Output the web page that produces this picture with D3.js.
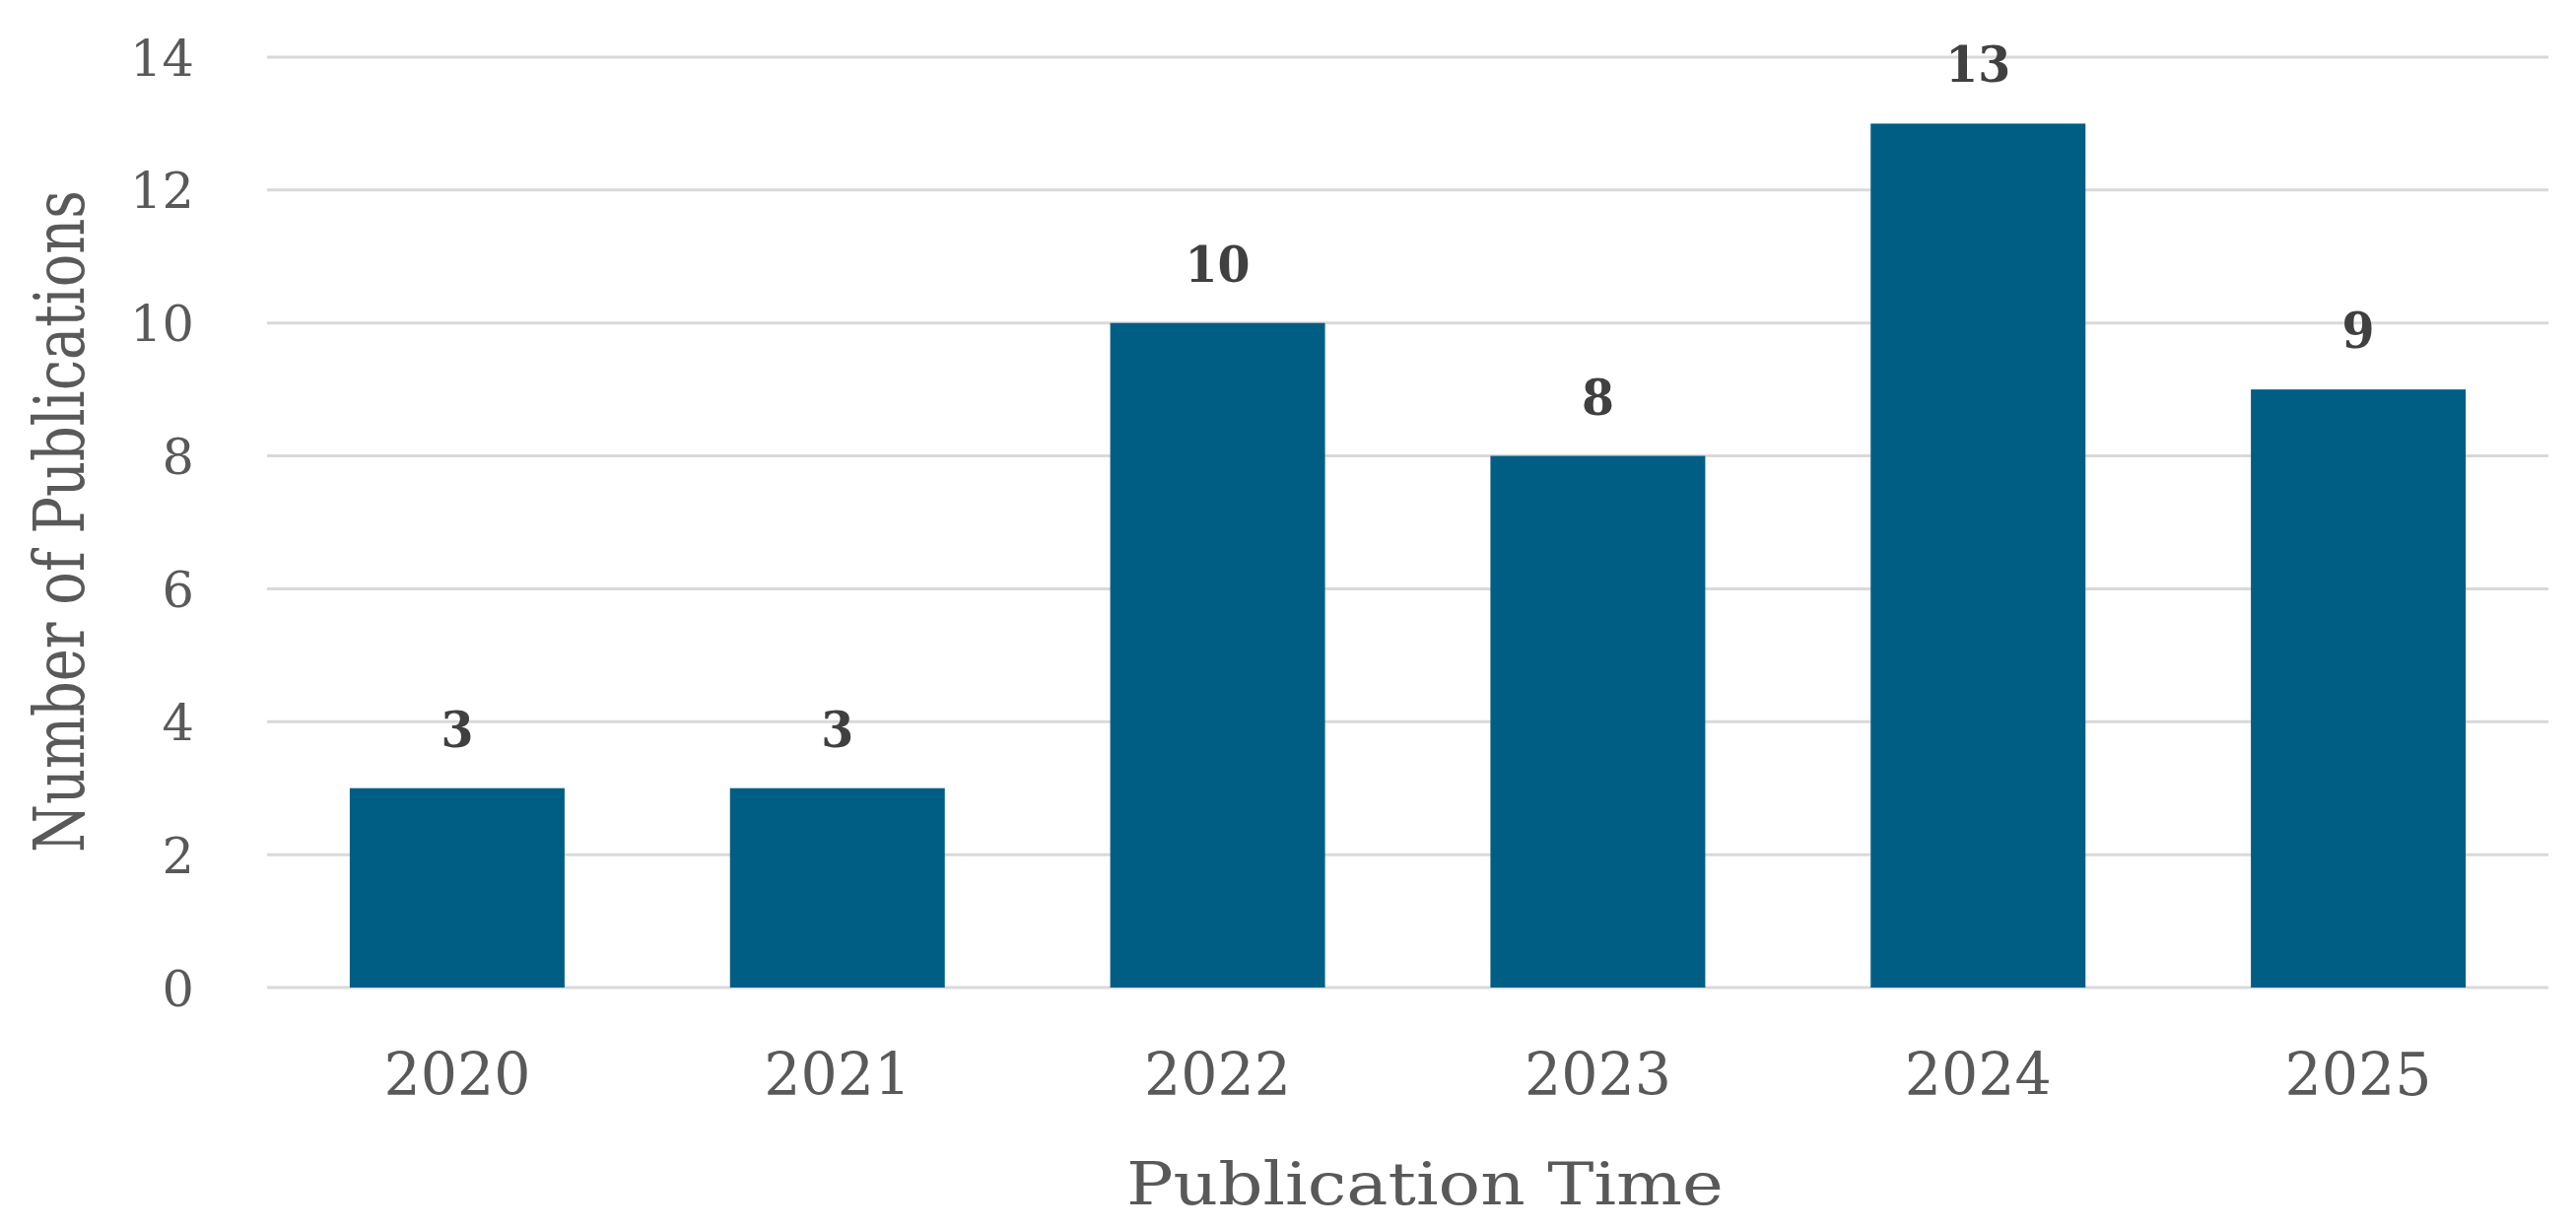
<!DOCTYPE html>
<html>
<head>
<meta charset="utf-8">
<script src="https://cdn.jsdelivr.net/npm/d3@7"></script>
<style>
  html, body { margin: 0; padding: 0; background: #ffffff; }
  svg { display: block; }
</style>
</head>
<body>
<svg id="chart" width="2614" height="1247"></svg>
<script>
const years = ["2020", "2021", "2022", "2023", "2024", "2025"];
const publications = [3, 3, 10, 8, 13, 9];
const yTicks = [0, 2, 4, 6, 8, 10, 12, 14];
const xTitle = "Publication Time";
const yTitle = "Number of Publications";

(function () {
const svg = d3.select("#chart");
const W = 2614, H = 1247;
svg.append("rect").attr("width", W).attr("height", H).attr("fill", "#ffffff");

const plotLeft = 271, plotRight = 2586, plotTop = 58, plotBottom = 1002;
const x = d3.scaleBand().domain(years).range([plotLeft, plotRight]).paddingInner(0.435).paddingOuter(0.2175);
const y = d3.scaleLinear().domain([0, 14]).range([plotBottom, plotTop]);

const serif = "'DejaVu Serif', 'Liberation Serif', serif";

// gridlines
svg.append("g").selectAll("line").data(yTicks).join("line")
  .attr("x1", plotLeft).attr("x2", plotRight)
  .attr("y1", d => y(d)).attr("y2", d => y(d))
  .attr("stroke", "#d9d9d9").attr("stroke-width", 3);

// y tick labels
svg.append("g").selectAll("text").data(yTicks).join("text")
  .attr("x", 197).attr("y", d => y(d) + 18.5)
  .attr("text-anchor", "end")
  .attr("font-family", serif).attr("font-size", 51)
  .attr("fill", "#595959")
  .text(d => d);

// bars
svg.append("g").selectAll("rect").data(years).join("rect")
  .attr("x", d => x(d)).attr("width", x.bandwidth())
  .attr("y", (d, i) => y(publications[i]))
  .attr("height", (d, i) => y(0) - y(publications[i]))
  .attr("fill", "#005e84");

// value labels
svg.append("g").selectAll("text").data(years).join("text")
  .attr("x", d => x(d) + x.bandwidth() / 2)
  .attr("y", (d, i) => y(publications[i]) - 42)
  .attr("text-anchor", "middle")
  .attr("font-family", serif).attr("font-size", 50).attr("font-weight", "bold")
  .attr("fill", "#404040")
  .attr("textLength", (d, i) => String(publications[i]).length * 33)
  .attr("lengthAdjust", "spacingAndGlyphs")
  .text((d, i) => publications[i]);

// x tick labels
svg.append("g").selectAll("text").data(years).join("text")
  .attr("x", d => x(d) + x.bandwidth() / 2)
  .attr("y", 1111)
  .attr("text-anchor", "middle")
  .attr("font-family", serif).attr("font-size", 60)
  .attr("fill", "#595959")
  .attr("textLength", 149).attr("lengthAdjust", "spacingAndGlyphs")
  .text(d => d);

// x title
svg.append("text")
  .attr("x", 1446).attr("y", 1222)
  .attr("text-anchor", "middle")
  .attr("font-family", serif).attr("font-size", 60)
  .attr("fill", "#595959")
  .attr("textLength", 606).attr("lengthAdjust", "spacingAndGlyphs")
  .text(xTitle);

// y title
svg.append("text")
  .attr("transform", "translate(85,529) rotate(-90)")
  .attr("text-anchor", "middle")
  .attr("font-family", serif).attr("font-size", 71)
  .attr("fill", "#595959")
  .attr("textLength", 672).attr("lengthAdjust", "spacingAndGlyphs")
  .text(yTitle);
})();
</script>
</body>
</html>
